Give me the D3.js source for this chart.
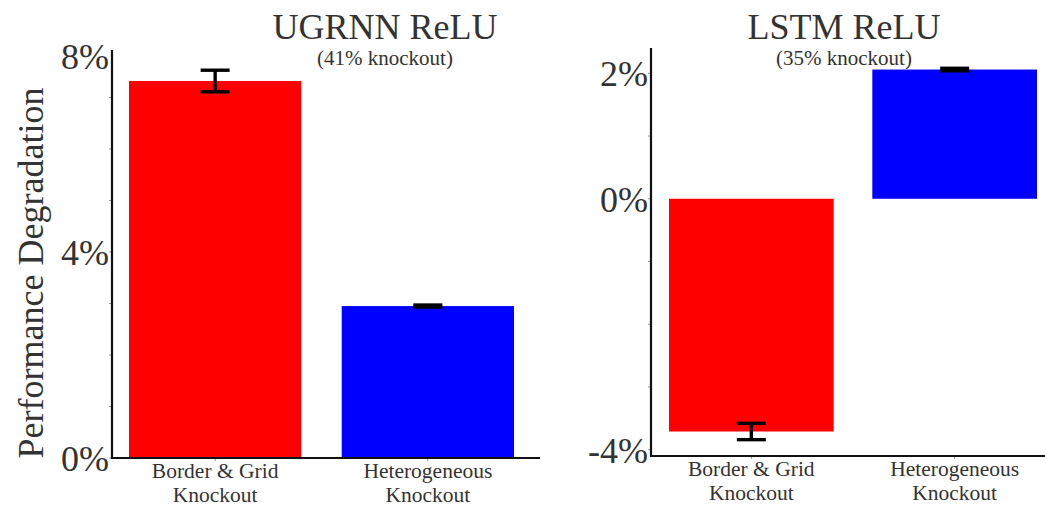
<!DOCTYPE html>
<html>
<head>
<meta charset="utf-8">
<script src="https://cdn.jsdelivr.net/npm/d3@7"></script>
<style>
  html, body { margin: 0; padding: 0; background: #fff; }
  svg { display: block; font-family: "Liberation Serif", "Times New Roman", serif; }
</style>
</head>
<body>
<svg id="chart" width="1045" height="506"></svg>
<script>
// Knockout categories shared by both panels
const categories = ["Border & Grid\nKnockout", "Heterogeneous\nKnockout"];
const barColors = ["#ff0000", "#0000ff"];

// UGRNN ReLU panel (41% knockout)
const ugrnnValues = [7.32, 2.95];
const ugrnnErrors = [0.21, 0.02];
const ugrnnTicks = [0, 4, 8];

// LSTM ReLU panel (35% knockout)
const lstmValues = [-3.71, 2.06];
const lstmErrors = [0.13, 0.02];
const lstmTicks = [-4, 0, 2];

const panels = [
  {
    title: "UGRNN ReLU", subtitle: "(41% knockout)",
    values: ugrnnValues, errors: ugrnnErrors, ticks: ugrnnTicks,
    domain: [0, 8], yRange: [458, 46], axisTop: 50, axisBottom: 458,
    axisX: 112, axisRight: 540, barRange: [129, 514], titleX: 385
  },
  {
    title: "LSTM ReLU", subtitle: "(35% knockout)",
    values: lstmValues, errors: lstmErrors, ticks: lstmTicks,
    domain: [-4, 2], yRange: [449.7, 73.3], axisTop: 48, axisBottom: 456,
    axisX: 651, axisRight: 1045, barRange: [669, 1037], titleX: 844
  }
];

const svg = d3.select("#chart");
const textColor = "#333";

panels.forEach(p => {
  const g = svg.append("g");
  const y = d3.scaleLinear().domain(p.domain).range(p.yRange);
  const x = d3.scaleBand().domain(categories).range(p.barRange).paddingInner(0.19).paddingOuter(0);

  // Bars
  g.selectAll("rect.bar").data(p.values).join("rect")
    .attr("class", "bar")
    .attr("x", (d, i) => x(categories[i]))
    .attr("width", x.bandwidth())
    .attr("y", d => Math.min(y(d), y(0)))
    .attr("height", d => Math.abs(y(d) - y(0)))
    .attr("fill", (d, i) => barColors[i]);

  // Error bars
  const capW = 29;
  p.values.forEach((v, i) => {
    const cx = x(categories[i]) + x.bandwidth() / 2;
    const e = p.errors[i];
    const eg = g.append("g").attr("stroke", "#000").attr("stroke-width", 3.4);
    eg.append("line").attr("x1", cx).attr("x2", cx).attr("y1", y(v + e)).attr("y2", y(v - e));
    eg.append("line").attr("x1", cx - capW / 2).attr("x2", cx + capW / 2).attr("y1", y(v + e)).attr("y2", y(v + e));
    eg.append("line").attr("x1", cx - capW / 2).attr("x2", cx + capW / 2).attr("y1", y(v - e)).attr("y2", y(v - e));
  });

  // Minor ticks every 1%
  const minor = d3.range(p.domain[0], p.domain[1] + 0.001, 1)
    .filter(d => y(d) >= p.axisTop);
  g.selectAll("line.minor").data(minor).join("line")
    .attr("x1", p.axisX - 3).attr("x2", p.axisX)
    .attr("y1", d => y(d)).attr("y2", d => y(d))
    .attr("stroke", "#999").attr("stroke-width", 1);

  // X tick marks under bar centres
  categories.forEach(c => {
    const cx = x(c) + x.bandwidth() / 2;
    g.append("line").attr("x1", cx).attr("x2", cx)
      .attr("y1", p.axisBottom).attr("y2", p.axisBottom + 3)
      .attr("stroke", "#999").attr("stroke-width", 1);
  });

  // Axis lines
  g.append("line").attr("x1", p.axisX).attr("x2", p.axisX)
    .attr("y1", p.axisTop).attr("y2", p.axisBottom + 1)
    .attr("stroke", "#111").attr("stroke-width", 2.2);
  g.append("line").attr("x1", p.axisX - 1).attr("x2", p.axisRight)
    .attr("y1", p.axisBottom).attr("y2", p.axisBottom)
    .attr("stroke", "#111").attr("stroke-width", 2.2);

  // Y tick labels
  g.selectAll("text.ytick").data(p.ticks).join("text")
    .attr("class", "ytick")
    .attr("x", p.axisX - 3)
    .attr("y", d => Math.max(y(d), 56) + 13)
    .attr("text-anchor", "end")
    .attr("font-size", 36)
    .attr("fill", textColor)
    .text(d => d + "%");

  // X category labels (two lines)
  categories.forEach(c => {
    const cx = x(c) + x.bandwidth() / 2;
    const lines = c.split("\n");
    const t = g.append("text").attr("text-anchor", "middle")
      .attr("font-size", 21.5).attr("fill", textColor);
    lines.forEach((ln, k) => {
      t.append("tspan").attr("x", cx).attr("y", p.axisBottom + 20 + k * 24).text(ln);
    });
  });

  // Titles
  g.append("text").attr("x", p.titleX).attr("y", 39)
    .attr("text-anchor", "middle").attr("font-size", 36).attr("fill", textColor)
    .text(p.title);
  g.append("text").attr("x", p.titleX).attr("y", 65)
    .attr("text-anchor", "middle").attr("font-size", 21).attr("fill", textColor)
    .text(p.subtitle);
});

// Shared y-axis label
svg.append("text")
  .attr("transform", "translate(43,273) rotate(-90)")
  .attr("text-anchor", "middle")
  .attr("font-size", 36)
  .attr("fill", textColor)
  .text("Performance Degradation");
</script>
</body>
</html>
